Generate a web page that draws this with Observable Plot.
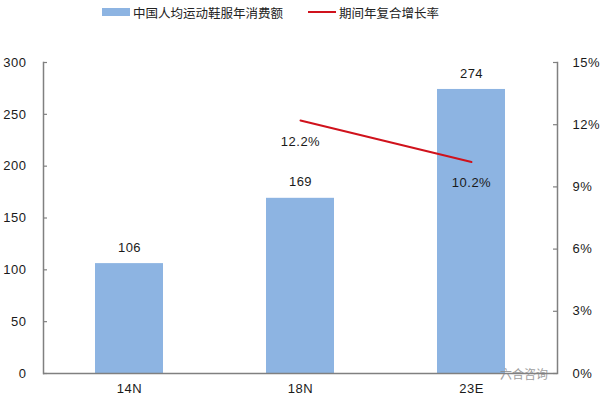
<!DOCTYPE html>
<html>
<head>
<meta charset="utf-8">
<script src="https://cdn.jsdelivr.net/npm/d3@7"></script>
<script src="https://cdn.jsdelivr.net/npm/@observablehq/plot@0.6"></script>
<style>
  body { margin: 0; background: #fff; }
  #wrap { position: relative; width: 600px; height: 400px; font-family: "Liberation Sans", Arial, "Noto Sans CJK SC", sans-serif; }
  #legend { position: absolute; top: 2px; left: 0; width: 600px; height: 20px; font-family: "Noto Sans CJK SC", sans-serif; font-size: 12.5px; color: #222; }
  .item { position: absolute; top: 0; display: flex; align-items: center; height: 20px; }
  .sw { display: inline-block; width: 28px; height: 8px; margin-right: 3px; }
  .ln { display: inline-block; width: 28px; height: 2px; margin-right: 3px; }
  #wm { position: absolute; left: 500px; top: 365px; font-family: "Noto Sans CJK SC", sans-serif; font-size: 12px; color: #888; opacity: 0.8; }
  #chart { position: absolute; top: 0; left: 0; }
  #chart svg text { letter-spacing: 0.5px; }
</style>
</head>
<body>
<div id="wrap">
  <div id="chart"></div>
  <div id="legend">
    <div class="item" style="left:102px"><span class="sw" style="background:#8db4e2"></span><span id="l1"></span></div>
    <div class="item" style="left:308px"><span class="ln" style="background:#d0121c"></span><span id="l2"></span></div>
  </div>
  <div id="wm">六合咨询</div>
</div>
<script>
const categories = ["14N", "18N", "23E"];
const spending = [106, 169, 274];
const rateCategories = ["18N", "23E"];
const rates = [12.2, 10.2];
const leftTicks = [0, 50, 100, 150, 200, 250, 300];
const rightTicks = [0, 3, 6, 9, 12, 15];
const seriesNames = ["中国人均运动鞋服年消费额", "期间年复合增长率"];

document.getElementById("l1").textContent = seriesNames[0];
document.getElementById("l2").textContent = seriesNames[1];

const k = 300 / 15; // right-axis (%) to left-axis scale factor
const bars = categories.map((c, i) => ({cat: c, value: spending[i]}));
const rateData = rateCategories.map((c, i) => ({cat: c, rate: rates[i]}));
const axisColor = "#808080";
const fs = 13;

const chart = Plot.plot({
  width: 600,
  height: 400,
  marginTop: 62,
  marginBottom: 27,
  marginLeft: 43,
  marginRight: 43,
  style: {fontFamily: '"Liberation Sans", Arial, sans-serif', fontSize: "13px", color: "#1a1a1a", background: "transparent"},
  x: {domain: categories, paddingInner: 0.6, paddingOuter: 0.3, label: null},
  y: {domain: [0, 300], label: null},
  marks: [
    Plot.barY(bars, {x: "cat", y: "value", fill: "#8db4e2"}),
    Plot.frame({anchor: "left", stroke: axisColor, strokeWidth: 1.5}),
    Plot.frame({anchor: "right", stroke: axisColor, strokeWidth: 1.5}),
    Plot.ruleY([0], {stroke: axisColor, strokeWidth: 1.5}),
    Plot.ruleY(leftTicks, {y: d => d, insetRight: 510, stroke: axisColor, strokeWidth: 1.2}),
    Plot.ruleY(rightTicks, {y: d => d * k, insetLeft: 510, stroke: axisColor, strokeWidth: 1.2}),
    Plot.axisY({anchor: "left", ticks: leftTicks, tickSize: 0, tickPadding: 17, label: null, fontSize: fs}),
    Plot.axisY({anchor: "right", ticks: rightTicks.map(d => d * k), tickFormat: d => (d / k) + "%", tickSize: 0, tickPadding: 15, label: null, fontSize: fs}),
    Plot.axisX({tickSize: 0, tickPadding: 10, label: null, fontSize: fs}),
    Plot.text(bars, {x: "cat", y: "value", text: d => String(d.value), dy: -16, fontSize: fs, fill: "#1a1a1a"}),
    Plot.lineY(rateData, {x: "cat", y: d => d.rate * k, stroke: "#d0121c", strokeWidth: 2}),
    Plot.text(rateData, {x: "cat", y: d => d.rate * k, text: d => d.rate.toFixed(1) + "%", dy: 21, fontSize: fs, fill: "#1a1a1a"})
  ]
});
document.getElementById("chart").appendChild(chart);
</script>
</body>
</html>
